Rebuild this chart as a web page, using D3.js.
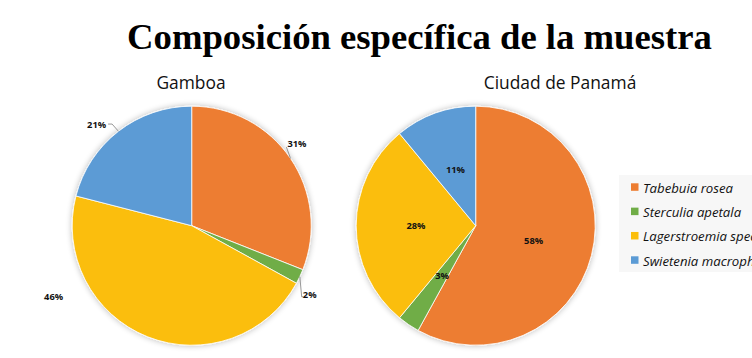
<!DOCTYPE html>
<html>
<head>
<meta charset="utf-8">
<script src="https://cdn.jsdelivr.net/npm/d3@7"></script>
<style>
  html, body { margin: 0; padding: 0; background: #fff; }
  svg { display: block; }
</style>
</head>
<body>
<svg id="chart" width="752" height="358"></svg>
<script>
// ---- data ----
const species = ["Tabebuia rosea", "Sterculia apetala", "Lagerstroemia speciosa", "Swietenia macrophylla"];
const gamboaValues = [31, 2, 46, 21];
const panamaValues = [58, 3, 28, 11];
const panelTitles = ["Gamboa", "Ciudad de Panamá"];
const chartTitle = "Composición específica de la muestra";
const colors = ["#ED7D31", "#70AD47", "#FBBE0B", "#5B9BD5"];

// ---- drawing ----
const svg = d3.select("#chart");
const W = 752, H = 358;

const defs = svg.append("defs");
const f = defs.append("filter").attr("id", "shadow").attr("x", "-20%").attr("y", "-20%").attr("width", "140%").attr("height", "140%");
f.append("feGaussianBlur").attr("in", "SourceAlpha").attr("stdDeviation", 3).attr("result", "b");
f.append("feOffset").attr("in", "b").attr("dx", 0).attr("dy", 0).attr("result", "o");
f.append("feComponentTransfer").attr("in", "o").attr("result", "s")
  .append("feFuncA").attr("type", "linear").attr("slope", 0.28);
const fm = f.append("feMerge");
fm.append("feMergeNode").attr("in", "s");
fm.append("feMergeNode").attr("in", "SourceGraphic");

svg.append("text")
  .attr("x", 419.5).attr("y", 48.5)
  .attr("text-anchor", "middle")
  .attr("font-family", "'Liberation Serif', 'Times New Roman', serif")
  .attr("font-weight", "bold")
  .attr("font-size", 36.7)
  .attr("fill", "#000")
  .text(chartTitle);

const R = 119.5;
const color = d3.scaleOrdinal().domain(species).range(colors);
const pie = d3.pie().sort(null).value(d => d.value);
const arc = d3.arc().innerRadius(0).outerRadius(R);
const edgeArc = d3.arc().innerRadius(R).outerRadius(R);
const inArc = d3.arc().innerRadius(0).outerRadius(R);

function drawPie(cx, cy, values, title, titleX, labelMode) {
  const data = species.map((s, i) => ({ name: s, value: values[i] }));
  const arcs = pie(data);
  const total = d3.sum(values);
  const g = svg.append("g").attr("transform", `translate(${cx},${cy})`);
  svg.append("text")
    .attr("x", titleX).attr("y", 88.5)
    .attr("text-anchor", "middle")
    .attr("font-family", "'Open Sans', 'Noto Sans', sans-serif")
    .attr("font-size", 17.4)
    .attr("fill", "#111")
    .text(title);

  const sg = g.append("g").attr("filter", "url(#shadow)");
  sg.selectAll("path").data(arcs).join("path")
    .attr("d", arc)
    .attr("fill", d => color(d.data.name))
    .attr("stroke", "#fff")
    .attr("stroke-opacity", 0.8)
    .attr("stroke-width", 1);

  const fmt = d => Math.round(d.data.value / total * 100) + "%";
  const lbl = g.selectAll("text.lbl").data(arcs).join("text")
    .attr("class", "lbl")
    .attr("font-family", "'Open Sans', 'Noto Sans', sans-serif")
    .attr("font-weight", "bold")
    .attr("font-size", 9.3)
    .attr("fill", "#111")
    .attr("text-anchor", "middle")
    .attr("dominant-baseline", "central")
    .text(fmt);

  if (labelMode === "inside") {
    lbl.attr("transform", d => `translate(${inArc.centroid(d)})`);
  } else {
    // outside placements (angle in degrees clockwise from top, distance from center)
    const place = [
      { a: 52, r: 133.5, line: [-10.5, 3.6] },
      { a: 120.2, r: 136.5, line: [-8, 2.4] },
      { a: 243, r: 155, line: null },
      { a: 316.9, r: 139.2, line: [11.5, 0] }
    ];
    const pos = i => {
      const t = place[i].a * Math.PI / 180;
      return [place[i].r * Math.sin(t), -place[i].r * Math.cos(t)];
    };
    lbl.attr("transform", (d, i) => `translate(${pos(i)})`);
    arcs.forEach((d, i) => {
      if (!place[i].line) return;
      const p = pos(i);
      const e = edgeArc.centroid(d);
      const q = [p[0] + place[i].line[0], p[1] + place[i].line[1]];
      let pts;
      if (i === 3) pts = [[q[0], q[1]], [q[0] + 4, q[1]], e];
      else if (i === 1) pts = [e, [q[0], q[1]], [q[0] + 1.5, q[1]]];
      else pts = [q, e];
      g.append("path")
        .attr("d", d3.line()(pts))
        .attr("fill", "none")
        .attr("stroke", "#7f7f7f")
        .attr("stroke-width", 0.8);
    });
  }
}

drawPie(191.7, 225.7, gamboaValues, panelTitles[0], 191, "outside");
drawPie(475.7, 225.7, panamaValues, panelTitles[1], 560, "inside");

// legend
const lg = svg.append("g");
lg.append("rect").attr("x", 619).attr("y", 175).attr("width", 140).attr("height", 97).attr("fill", "#f7f7f7");
const ly = d3.scalePoint().domain(species).range([187, 260]);
const items = lg.selectAll("g.item").data(species).join("g").attr("class", "item")
  .attr("transform", d => `translate(631,${ly(d)})`);
items.append("rect").attr("x", 0).attr("y", -3.7).attr("width", 7.5).attr("height", 7.5).attr("fill", d => color(d));
items.append("text").attr("x", 12).attr("y", 0.5)
  .attr("dominant-baseline", "central")
  .attr("font-family", "'Open Sans', 'Noto Sans', sans-serif")
  .attr("font-style", "italic")
  .attr("font-size", 13.2)
  .attr("fill", "#111")
  .text(d => d);
</script>
</body>
</html>
